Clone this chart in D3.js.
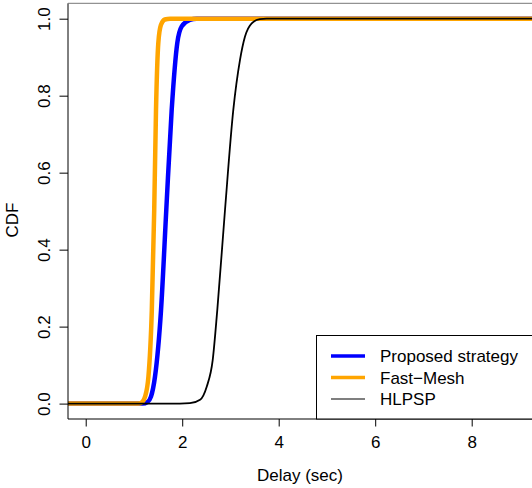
<!DOCTYPE html>
<html>
<head>
<meta charset="utf-8">
<script src="https://cdn.jsdelivr.net/npm/d3@7"></script>
<style>
  html, body { margin: 0; padding: 0; background: #fff; }
  text { font-family: "Liberation Sans", Arial, sans-serif; fill: #000; }
</style>
</head>
<body>
<svg id="chart" width="532" height="488"></svg>
<script>
// Empirical CDF of delay for each strategy: delay (sec) and cumulative probability
const proposedDelay = [1.18, 1.28, 1.353, 1.436, 1.561, 1.670, 1.782, 1.898, 1.99, 2.16, 2.30];
const proposedCdf   = [0, 0.004, 0.018, 0.070, 0.243, 0.503, 0.763, 0.937, 0.980, 0.997, 1];

const fastMeshDelay = [1.10, 1.18, 1.23, 1.30, 1.37, 1.42, 1.457, 1.505, 1.56, 1.64, 1.75];
const fastMeshCdf   = [0, 0.005, 0.018, 0.070, 0.243, 0.503, 0.763, 0.937, 0.984, 0.998, 1];

const hlpspDelay = [1.95, 2.16, 2.37, 2.508, 2.632, 2.727, 2.887, 3.059, 3.198, 3.30, 3.44, 3.61, 3.75];
const hlpspCdf   = [0, 0.001, 0.010, 0.044, 0.113, 0.243, 0.503, 0.763, 0.893, 0.953, 0.988, 0.999, 1];

const xTicks = [0, 2, 4, 6, 8];
const yTicks = [0, 0.2, 0.4, 0.6, 0.8, 1.0];
const legendLabels = ["Proposed strategy", "Fast\u2212Mesh", "HLPSP"];

const series = [
  { name: legendLabels[0], x: proposedDelay, y: proposedCdf, color: "#0000FF", width: 4.5, legendWidth: 3.5 },
  { name: legendLabels[1], x: fastMeshDelay, y: fastMeshCdf, color: "#FFA500", width: 4.5, legendWidth: 3.5 },
  { name: legendLabels[2], x: hlpspDelay,    y: hlpspCdf,    color: "#000000", width: 1.8, legendWidth: 1.1 }
];

const svg = d3.select("#chart");

// plot region
const plotLeft = 68, plotRight = 546, plotTop = 3.3, plotBottom = 419;
const x = d3.scaleLinear().domain([-0.367, 9.54]).range([plotLeft, plotRight]);
const y = d3.scaleLinear().domain([-0.04, 1.04]).range([plotBottom, plotTop]);

svg.append("defs").append("clipPath").attr("id", "plotClip")
  .append("rect").attr("x", plotLeft).attr("y", plotTop)
  .attr("width", plotRight - plotLeft).attr("height", plotBottom - plotTop);

const plot = svg.append("g").attr("clip-path", "url(#plotClip)");

// step function extends to the edges of the plot at 0 and 1
const line = d3.line().x(d => x(d[0])).y(d => y(d[1])).curve(d3.curveMonotoneX);
const [xMin, xMax] = x.domain();

series.forEach(s => {
  const pts = s.x.map((v, i) => [v, s.y[i]]);
  pts.unshift([xMin, 0]);
  pts.push([xMax, 1]);
  plot.append("path")
    .attr("d", line(pts))
    .attr("fill", "none")
    .attr("stroke", s.color)
    .attr("stroke-width", s.width)
    .attr("stroke-linejoin", "round");
});

// frame
svg.append("line").attr("x1", plotLeft).attr("x2", plotLeft).attr("y1", plotTop).attr("y2", plotBottom)
  .attr("stroke", "#000").attr("stroke-width", 1);
svg.append("line").attr("x1", plotLeft).attr("x2", 532).attr("y1", plotBottom).attr("y2", plotBottom)
  .attr("stroke", "#000").attr("stroke-width", 1);
svg.append("line").attr("x1", plotLeft).attr("x2", 532).attr("y1", plotTop).attr("y2", plotTop)
  .attr("stroke", "#777").attr("stroke-width", 1);

// x axis
const xAxis = svg.append("g").attr("transform", `translate(0,${plotBottom})`)
  .call(d3.axisBottom(x).tickValues(xTicks).tickSize(7.5).tickPadding(4)
    .tickFormat(d3.format("d")));
xAxis.select(".domain").remove();
xAxis.selectAll("text").attr("font-size", 17).attr("dy", null)
  .attr("y", 29).attr("font-family", "Liberation Sans, Arial, sans-serif");
xAxis.selectAll("line").attr("stroke", "#000");

// y axis with rotated labels
const yAxis = svg.append("g").attr("transform", `translate(${plotLeft},0)`)
  .call(d3.axisLeft(y).tickValues(yTicks).tickSize(8.5).tickFormat(d3.format(".1f")));
yAxis.select(".domain").remove();
yAxis.selectAll("line").attr("stroke", "#000");
yAxis.selectAll("text")
  .attr("font-size", 17)
  .attr("font-family", "Liberation Sans, Arial, sans-serif")
  .attr("x", null).attr("dy", null)
  .attr("text-anchor", "middle")
  .attr("transform", "translate(-18,0) rotate(-90)");

// axis titles
svg.append("text").attr("x", 300).attr("y", 481).attr("text-anchor", "middle")
  .attr("font-size", 17).text("Delay (sec)");
svg.append("text").attr("transform", "translate(18,220) rotate(-90)")
  .attr("text-anchor", "middle").attr("font-size", 17).text("CDF");

// legend
const legend = svg.append("g");
legend.append("rect").attr("x", 316.5).attr("y", 335.5).attr("width", 240)
  .attr("height", plotBottom - 335.5)
  .attr("fill", "#fff").attr("stroke", "#000").attr("stroke-width", 1);
const rowY = [356, 377.5, 399];
series.forEach((s, i) => {
  legend.append("line").attr("x1", 331).attr("x2", 365).attr("y1", rowY[i]).attr("y2", rowY[i])
    .attr("stroke", s.color).attr("stroke-width", s.legendWidth);
  legend.append("text").attr("x", 380).attr("y", rowY[i] + 6).attr("font-size", 17).text(s.name);
});
</script>
</body>
</html>
